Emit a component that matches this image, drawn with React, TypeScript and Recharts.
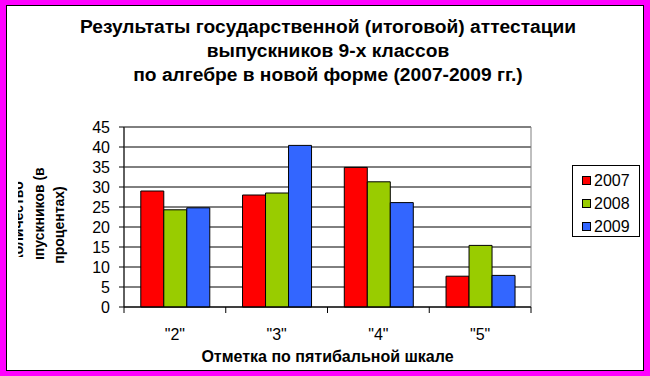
import React from 'react';
import { BarChart, Bar, XAxis, YAxis, CartesianGrid, Legend, ReferenceArea, Label } from 'recharts';

const titleLines = [
  'Результаты государственной (итоговой) аттестации',
  'выпускников 9-х классов',
  'по алгебре в новой форме (2007-2009 гг.)',
];
const yLabelLines = ['Количество', 'выпускников (в', 'процентах)'];
const xTitle = 'Отметка по пятибальной шкале';

const categories = ['"2"', '"3"', '"4"', '"5"'];
const seriesNames = ['2007', '2008', '2009'];
const series2007 = [29.0, 28.0, 34.9, 7.7];
const series2008 = [24.3, 28.5, 31.3, 15.4];
const series2009 = [24.8, 40.4, 26.1, 7.9];
const seriesColors = ['#FF0000', '#99CC00', '#3366FF'];
const yTicks = [0, 5, 10, 15, 20, 25, 30, 35, 40, 45];

const data = categories.map((c, i) => ({
  cat: c,
  [seriesNames[0]]: series2007[i],
  [seriesNames[1]]: series2008[i],
  [seriesNames[2]]: series2009[i],
}));

const FONT = '"Liberation Sans", Arial, sans-serif';

const CatTick = (props: any) => {
  const { y, payload } = props;
  const half = payload.offset || 0;
  const c = payload.coordinate;
  const isLast = payload.value === categories[categories.length - 1];
  return (
    <g>
      <line x1={c - half} y1={y} x2={c - half} y2={y + 6} stroke="#000" strokeWidth={1} />
      {isLast && <line x1={c + half} y1={y} x2={c + half} y2={y + 6} stroke="#000" strokeWidth={1} />}
      <text x={c} y={y + 33} textAnchor="middle" fontSize={16} fontFamily={FONT} fill="#000">
        {payload.value}
      </text>
    </g>
  );
};

const YLabel = () => {
  const xs = [23, 43.5, 64];
  const cys = [222, 222, 225];
  const clips = ['url(#ylab1)', 'url(#ylab2)', undefined];
  return (
    <g>
      <defs>
        <clipPath id="ylab1">
          <rect x={18} y={100} width={80} height={157} />
        </clipPath>
        <clipPath id="ylab2">
          <rect x={16} y={100} width={80} height={159} />
        </clipPath>
      </defs>
      {yLabelLines.map((t, i) => (
        <g key={i} clipPath={clips[i]}>
          <text
            x={xs[i]}
            y={cys[i]}
            transform={`rotate(-90, ${xs[i]}, ${cys[i]})`}
            textAnchor="middle"
            fontSize={14}
            fontWeight="bold"
            fontFamily={FONT}
            fill="#000"
          >
            {t}
          </text>
        </g>
      ))}
    </g>
  );
};

const XTitle = (props: any) => {
  const vb = props.viewBox || {};
  return (
    <text
      x={vb.x + vb.width / 2}
      y={vb.y + 55}
      textAnchor="middle"
      fontSize={16}
      fontWeight="bold"
      fontFamily={FONT}
      fill="#000"
    >
      {xTitle}
    </text>
  );
};

const LegendContent = (props: any) => {
  const payload = props.payload || [];
  return (
    <div
      style={{
        width: 68,
        height: 72,
        boxSizing: 'border-box',
        border: '1px solid #000',
        background: '#fff',
        paddingTop: 3,
        fontFamily: FONT,
      }}
    >
      {payload.map((p: any, i: number) => (
        <div key={i} style={{ display: 'flex', alignItems: 'center', height: 23 }}>
          <span
            style={{
              display: 'inline-block',
              width: 9,
              height: 9,
              marginLeft: 9,
              marginRight: 3,
              background: p.color,
              border: '1px solid #000',
              boxSizing: 'border-box',
            }}
          />
          <span style={{ fontSize: 16, color: '#000', lineHeight: '23px' }}>{p.value}</span>
        </div>
      ))}
    </div>
  );
};

export default function App() {
  return (
    <div style={{ position: 'absolute', left: 0, top: 0, width: 650, height: 376, background: '#FF00FF' }}>
      <div
        style={{
          position: 'absolute',
          left: 6,
          top: 5,
          width: 638,
          height: 366,
          boxSizing: 'border-box',
          border: '1px solid #000',
          background: '#fff',
        }}
      />
      <div style={{ position: 'absolute', left: 0, top: 0 }}>
        <BarChart
          width={650}
          height={376}
          data={data}
          margin={{ top: 127, right: 119, bottom: 29, left: 0 }}
          barCategoryGap="16.5%"
          barGap={0}
        >
          <CartesianGrid vertical={false} stroke="#000" strokeWidth={1} />
          <ReferenceArea y1={0} y2={45} fill="none" stroke="#808080" strokeWidth={1} fillOpacity={0} />
          <XAxis
            dataKey="cat"
            interval={0}
            tickSize={0}
            tickMargin={0}
            tickLine={false}
            tick={<CatTick />}
            axisLine={{ stroke: '#000' }}
            height={40}
          >
            <Label content={<XTitle />} />
          </XAxis>
          <YAxis
            domain={[0, 45]}
            ticks={yTicks}
            interval={0}
            width={124}
            tickSize={5}
            tickMargin={9}
            tick={{ fontSize: 16, fill: '#000', fontFamily: FONT }}
            axisLine={{ stroke: '#000' }}
            tickLine={{ stroke: '#000' }}
          >
            <Label content={<YLabel />} />
          </YAxis>
          {seriesNames.map((s, i) => (
            <Bar
              key={s}
              dataKey={s}
              fill={seriesColors[i]}
              stroke="#000"
              strokeWidth={1}
              isAnimationActive={false}
            />
          ))}
          <Legend
            layout="horizontal"
            align="center"
            verticalAlign="middle"
            content={<LegendContent />}
            wrapperStyle={{ left: 572, top: 165, width: 68, height: 72 }}
          />
        </BarChart>
      </div>
      <div
        style={{
          position: 'absolute',
          left: 0,
          top: 15,
          width: 656,
          textAlign: 'center',
          fontFamily: FONT,
          fontWeight: 'bold',
          fontSize: 19.2,
          lineHeight: '24px',
          color: '#000',
          whiteSpace: 'nowrap',
        }}
      >
        {titleLines.map((t, i) => (
          <div key={i}>{t}</div>
        ))}
      </div>
    </div>
  );
}
